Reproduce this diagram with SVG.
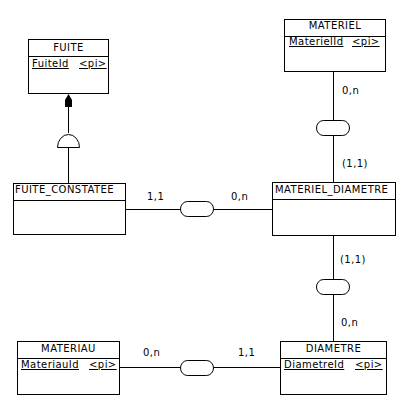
<svg xmlns="http://www.w3.org/2000/svg" width="411" height="406" viewBox="0 0 411 406">
<style>
.box{fill:#fff;stroke:#000;stroke-width:1;shape-rendering:crispEdges}
.sep{stroke:#000;stroke-width:1;shape-rendering:crispEdges}
.ln{stroke:#000;stroke-width:1;fill:none;shape-rendering:crispEdges}
.ov{fill:#fff;stroke:#000;stroke-width:1}
text{font-family:"DejaVu Sans",Verdana,sans-serif;font-size:10px;letter-spacing:0.45px;fill:#000}
.c{text-anchor:middle}
.u{text-decoration:underline}
</style>
<rect width="411" height="406" fill="#fff"/>
<g id="connectors">
<line class="ln" x1="68.5" y1="107" x2="68.5" y2="133"/>
<line class="ln" x1="68.5" y1="147" x2="68.5" y2="183"/>
<polygon points="68.5,94 65,100 65,107 72,107 72,100" fill="#000"/>
<path d="M57.5,147.5 A11,13 0 0 1 79.5,147.5 Z" class="ov"/>
<line class="ln" x1="125" y1="209.5" x2="272" y2="209.5"/>
<rect class="ov" x="180.5" y="201.5" width="33" height="15" rx="7" ry="7.5"/>
<text x="147" y="200">1,1</text>
<text x="231" y="200">0,n</text>
<line class="ln" x1="333.5" y1="71" x2="333.5" y2="183"/>
<rect class="ov" x="316.5" y="120.5" width="33" height="15" rx="7" ry="7.5"/>
<text x="342" y="94">0,n</text>
<text x="342" y="167">(1,1)</text>
<line class="ln" x1="333.5" y1="235" x2="333.5" y2="342"/>
<rect class="ov" x="316.5" y="279.5" width="33" height="15" rx="7" ry="7.5"/>
<text x="340" y="263">(1,1)</text>
<text x="341" y="326">0,n</text>
<line class="ln" x1="119" y1="367.5" x2="281" y2="367.5"/>
<rect class="ov" x="180.5" y="360.5" width="33" height="15" rx="7" ry="7.5"/>
<text x="143" y="356">0,n</text>
<text x="238" y="356">1,1</text>
</g>
<g id="FUITE">
<rect class="box" x="28.5" y="39.5" width="80" height="54"/>
<line class="sep" x1="28" y1="56.5" x2="109" y2="56.5"/>
<text class="c" x="68.5" y="51">FUITE</text>
<text class="u" x="32" y="67">FuiteId</text>
<text class="u" x="79" y="67">&lt;pi&gt;</text>
</g>
<g id="FUITE_CONSTATEE">
<rect class="box" x="13.5" y="183.5" width="112" height="51"/>
<line class="sep" x1="13" y1="200.5" x2="126" y2="200.5"/>
<text x="15" y="193">FUITE_CONSTATEE</text>
</g>
<g id="MATERIEL">
<rect class="box" x="284.5" y="19.5" width="101" height="52"/>
<line class="sep" x1="284" y1="36.5" x2="386" y2="36.5"/>
<text class="c" x="335" y="29">MATERIEL</text>
<text class="u" x="289" y="45">MaterielId</text>
<text class="u" x="352" y="45">&lt;pi&gt;</text>
</g>
<g id="MATERIEL_DIAMETRE">
<rect class="box" x="272.5" y="182.5" width="123" height="53"/>
<line class="sep" x1="272" y1="199.5" x2="396" y2="199.5"/>
<text x="275" y="193">MATERIEL_DIAMETRE</text>
</g>
<g id="MATERIAU">
<rect class="box" x="17.5" y="341.5" width="102" height="53"/>
<line class="sep" x1="17" y1="358.5" x2="120" y2="358.5"/>
<text class="c" x="68.5" y="352">MATERIAU</text>
<text class="u" x="21" y="368">MateriauId</text>
<text class="u" x="89" y="368">&lt;pi&gt;</text>
</g>
<g id="DIAMETRE">
<rect class="box" x="280.5" y="341.5" width="106" height="53"/>
<line class="sep" x1="280" y1="358.5" x2="387" y2="358.5"/>
<text class="c" x="333.5" y="352">DIAMETRE</text>
<text class="u" x="284" y="368">DiametreId</text>
<text class="u" x="355" y="368">&lt;pi&gt;</text>
</g>
</svg>
